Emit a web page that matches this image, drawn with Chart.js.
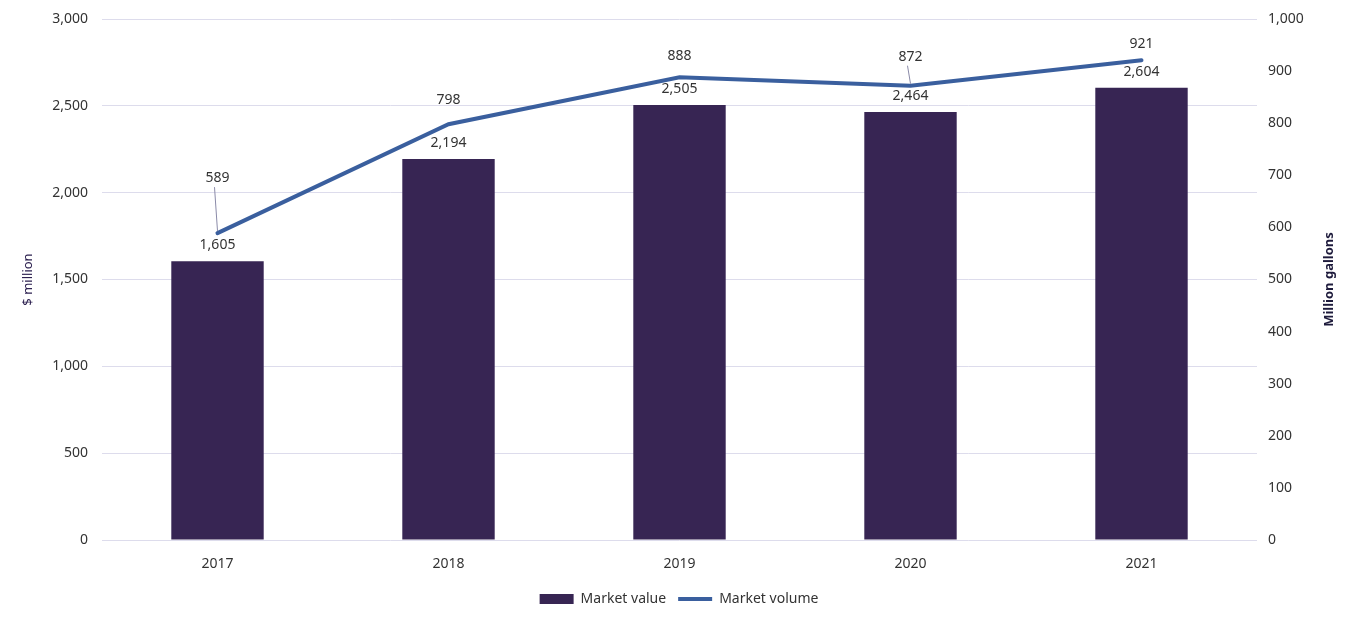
<!DOCTYPE html>
<html>
<head>
<meta charset="utf-8">
<script src="https://cdn.jsdelivr.net/npm/chart.js@4.4.1/dist/chart.umd.min.js"></script>
<style>
 html, body { margin: 0; padding: 0; background: #fff; }
 #wrap { width: 1358px; height: 622px; }
</style>
</head>
<body>
<div id="wrap"><canvas id="marketChart"></canvas></div>
<script>
// chart data
const years = ["2017", "2018", "2019", "2020", "2021"];
const marketValue = [1605, 2194, 2505, 2464, 2604];   // $ million
const marketVolume = [589, 798, 888, 872, 921];      // million gallons

const barColor = "#372553";
const lineColor = "#3a5f9e";
const textColor = "#333333";
const fontFamily = "'Noto Sans', 'DejaVu Sans', sans-serif";

// how far above each point the volume label sits (px)
const volumeLift = [55, 24, 21, 29, 16];

const fmt = v => v.toLocaleString("en-US");

const labelPlugin = {
 id: "valueLabels",
 afterDatasetsDraw(chart){
  const ctx = chart.ctx;
  ctx.save();
  ctx.font = "14px " + fontFamily;
  ctx.fillStyle = textColor;
  ctx.textAlign = "center";
  ctx.textBaseline = "middle";

  // bar labels
  chart.getDatasetMeta(0).data.forEach((bar, i) => {
   ctx.fillText(fmt(marketValue[i]), bar.x, bar.y - 16);
  });

  // line labels with little leader lines
  chart.getDatasetMeta(1).data.forEach((pt, i) => {
   const ly = pt.y - volumeLift[i];
   if(volumeLift[i] > 26){
    ctx.strokeStyle = "#8a8aa8";
    ctx.lineWidth = 1;
    ctx.beginPath();
    ctx.moveTo(pt.x - 3, ly + 9);
    ctx.lineTo(pt.x, pt.y - 2);
    ctx.stroke();
   }
   ctx.fillText(fmt(marketVolume[i]), pt.x, ly);
  });

  // axis titles, both reading bottom to top
  const midY = (chart.chartArea.top + chart.chartArea.bottom) / 2;
  ctx.font = "13px " + fontFamily;
  ctx.fillStyle = "#2d2150";
  ctx.save();
  ctx.translate(28, midY);
  ctx.rotate(-Math.PI / 2);
  ctx.fillText("$ million", 0, 0);
  ctx.restore();

  ctx.font = "bold 13px " + fontFamily;
  ctx.fillStyle = "#1e1b3c";
  ctx.translate(1329, midY);
  ctx.rotate(-Math.PI / 2);
  ctx.fillText("Million gallons", 0, 0);
  ctx.restore();
 }
};

Chart.defaults.font.family = fontFamily;
Chart.defaults.font.size = 14;
Chart.defaults.color = textColor;

// fixed axis sizes so the plot area lines up
const fixY = w => s => { s.width = w; s.paddingTop = 0; s.paddingBottom = 0; };

const ctx = document.getElementById("marketChart").getContext("2d");
new Chart(ctx, {
 data: {
  labels: years,
  datasets: [
   {
    type: "bar",
    label: "Market value",
    data: marketValue,
    backgroundColor: barColor,
    yAxisID: "y",
    barPercentage: 0.8,
    categoryPercentage: 0.5,
    pointStyle: "rect",
    order: 2
   },
   {
    type: "line",
    label: "Market volume",
    data: marketVolume,
    borderColor: lineColor,
    backgroundColor: lineColor,
    borderWidth: 4,
    borderCapStyle: "round",
    pointRadius: 0,
    pointStyle: "line",
    tension: 0,
    yAxisID: "y1",
    order: 1
   }
  ]
 },
 options: {
  responsive: true,
  maintainAspectRatio: false,
  animation: false,
  layout: { padding: { top: 19, bottom: 6 } },
  scales: {
   x: {
    grid: { display: false },
    border: { display: false },
    ticks: { padding: 8 },
    afterFit: s => { s.height = 40; }
   },
   y: {
    position: "left",
    min: 0,
    max: 3000,
    ticks: { stepSize: 500, padding: 14, callback: v => fmt(v) },
    grid: { color: "#dddcec", lineWidth: 1, drawTicks: false },
    border: { display: false },
    afterFit: fixY(102)
   },
   y1: {
    position: "right",
    min: 0,
    max: 1000,
    ticks: { stepSize: 100, padding: 11, callback: v => fmt(v) },
    grid: { drawOnChartArea: false, drawTicks: false },
    border: { display: false },
    afterFit: fixY(101)
   }
  },
  plugins: {
   legend: {
    position: "bottom",
    labels: {
     usePointStyle: true,
     pointStyleWidth: 34,
     boxHeight: 10,
     padding: 12,
     color: textColor,
     sort: (a, b) => a.datasetIndex - b.datasetIndex
    }
   },
   tooltip: { enabled: false }
  }
 },
 plugins: [labelPlugin]
});
</script>
</body>
</html>
